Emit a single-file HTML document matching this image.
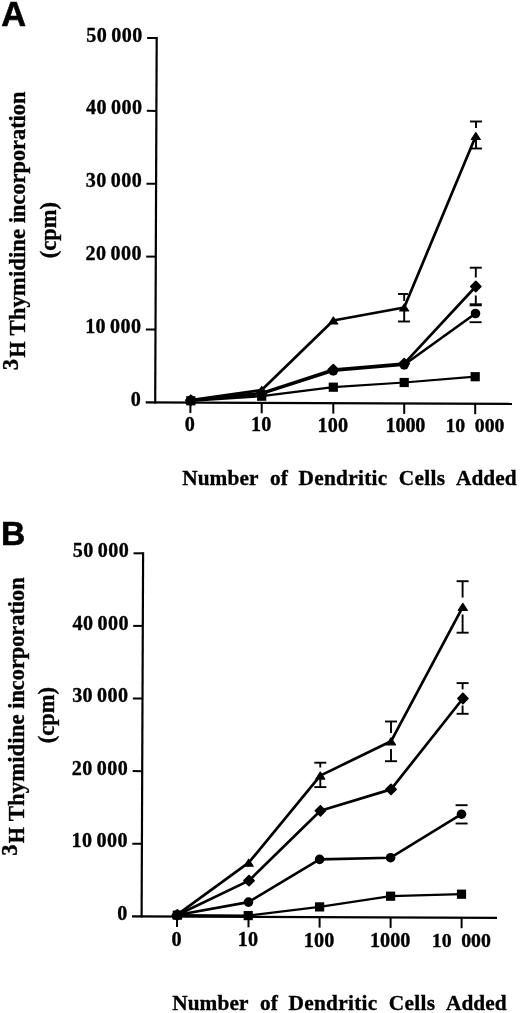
<!DOCTYPE html>
<html lang="en"><head><meta charset="utf-8"><title>Figure</title>
<style>
html,body{margin:0;padding:0;background:#fff}
svg{display:block}
text{font-family:'Liberation Serif', 'DejaVu Serif', serif;font-weight:bold;fill:#000;stroke:#000;stroke-width:0.35px}
.pl{font-family:'Liberation Sans', 'DejaVu Sans', sans-serif;font-weight:bold;stroke-width:0.6px}
</style></head><body>
<svg width="520" height="1013" viewBox="0 0 520 1013">
<rect width="520" height="1013" fill="#fff"/>
<text class="pl" x="1.2" y="25.5" font-size="34.4">A</text>
<text class="pl" x="0.9" y="545.3" font-size="33.6">B</text>
<g id="panelA">
<line x1="156.7" y1="37.0" x2="155.2" y2="403.4" stroke="#000" stroke-width="2.2" stroke-linecap="butt"/>
<line x1="145.7" y1="402.4" x2="512.0" y2="403.9" stroke="#000" stroke-width="2.2" stroke-linecap="butt"/>
<line x1="147.1" y1="38.0" x2="156.7" y2="38.0" stroke="#000" stroke-width="2.0" stroke-linecap="butt"/>
<line x1="146.8" y1="110.8" x2="156.4" y2="110.9" stroke="#000" stroke-width="2.0" stroke-linecap="butt"/>
<line x1="146.5" y1="183.7" x2="156.1" y2="183.8" stroke="#000" stroke-width="2.0" stroke-linecap="butt"/>
<line x1="146.2" y1="256.6" x2="155.8" y2="256.6" stroke="#000" stroke-width="2.0" stroke-linecap="butt"/>
<line x1="145.9" y1="329.5" x2="155.5" y2="329.5" stroke="#000" stroke-width="2.0" stroke-linecap="butt"/>
<line x1="190.4" y1="402.5" x2="190.4" y2="413.0" stroke="#000" stroke-width="2.0" stroke-linecap="butt"/>
<line x1="261.7" y1="402.8" x2="261.7" y2="413.3" stroke="#000" stroke-width="2.0" stroke-linecap="butt"/>
<line x1="333.3" y1="403.1" x2="333.3" y2="413.6" stroke="#000" stroke-width="2.0" stroke-linecap="butt"/>
<line x1="404.2" y1="403.4" x2="404.2" y2="413.9" stroke="#000" stroke-width="2.0" stroke-linecap="butt"/>
<line x1="475.2" y1="403.7" x2="475.2" y2="414.2" stroke="#000" stroke-width="2.0" stroke-linecap="butt"/>
<text x="142.8" y="41.5" font-size="20.1" text-anchor="end" letter-spacing="0.45" word-spacing="-1.5">50 000</text>
<text x="142.5" y="114.4" font-size="20.1" text-anchor="end" letter-spacing="0.45" word-spacing="-1.5">40 000</text>
<text x="142.2" y="187.3" font-size="20.1" text-anchor="end" letter-spacing="0.45" word-spacing="-1.5">30 000</text>
<text x="141.9" y="260.2" font-size="20.1" text-anchor="end" letter-spacing="0.45" word-spacing="-1.5">20 000</text>
<text x="141.6" y="333.1" font-size="20.1" text-anchor="end" letter-spacing="0.45" word-spacing="-1.5">10 000</text>
<text x="141.3" y="405.9" font-size="20.1" text-anchor="end" letter-spacing="0.45" word-spacing="-1.5">0</text>
<text x="190.0" y="431.1" font-size="20.2" text-anchor="middle" letter-spacing="0.25">0</text>
<text x="261.3" y="431.4" font-size="20.2" text-anchor="middle" letter-spacing="0.25">10</text>
<text x="332.9" y="431.7" font-size="20.2" text-anchor="middle" letter-spacing="0.25">100</text>
<text x="405.4" y="432.0" font-size="20.2" text-anchor="middle" letter-spacing="-0.2">1000</text>
<text x="465.2" y="432.3" font-size="19.8" text-anchor="end" >10</text>
<text x="474.8" y="432.3" font-size="19.8" text-anchor="start" >000</text>
<polyline points="190.8,400.8 261.7,396.2 333.3,387.2 404.2,382.5 475.2,376.7" fill="none" stroke="#000" stroke-width="2.2" stroke-linejoin="round"/>
<polyline points="190.8,400.3 261.7,393.8 333.3,370.8 404.2,364.8 475.5,313.5" fill="none" stroke="#000" stroke-width="2.6" stroke-linejoin="round"/>
<polyline points="190.8,400.3 261.7,393.0 333.3,369.6 404.2,363.6 475.8,286.5" fill="none" stroke="#000" stroke-width="2.7" stroke-linejoin="round"/>
<polyline points="190.8,400.0 261.7,390.0 333.3,320.5 404.2,307.5 475.8,136.0" fill="none" stroke="#000" stroke-width="2.7" stroke-linejoin="round"/>
<line x1="476.0" y1="121.5" x2="476.0" y2="128.0" stroke="#000" stroke-width="1.9" stroke-linecap="butt"/><line x1="476.0" y1="140.0" x2="476.0" y2="148.5" stroke="#000" stroke-width="1.9" stroke-linecap="butt"/><line x1="470.0" y1="121.5" x2="482.0" y2="121.5" stroke="#000" stroke-width="1.9" stroke-linecap="butt"/><line x1="470.0" y1="148.5" x2="482.0" y2="148.5" stroke="#000" stroke-width="1.9" stroke-linecap="butt"/>
<line x1="404.2" y1="294.0" x2="404.2" y2="301.0" stroke="#000" stroke-width="1.9" stroke-linecap="butt"/><line x1="404.2" y1="311.0" x2="404.2" y2="321.5" stroke="#000" stroke-width="1.9" stroke-linecap="butt"/><line x1="398.0" y1="294.0" x2="408.0" y2="294.0" stroke="#000" stroke-width="1.9" stroke-linecap="butt"/><line x1="398.0" y1="321.5" x2="410.0" y2="321.5" stroke="#000" stroke-width="1.9" stroke-linecap="butt"/>
<line x1="475.8" y1="267.7" x2="475.8" y2="277.5" stroke="#000" stroke-width="1.9" stroke-linecap="butt"/><line x1="475.8" y1="295.5" x2="475.8" y2="304.8" stroke="#000" stroke-width="1.9" stroke-linecap="butt"/><line x1="469.8" y1="267.7" x2="481.8" y2="267.7" stroke="#000" stroke-width="1.9" stroke-linecap="butt"/><line x1="469.6" y1="304.8" x2="481.8" y2="304.8" stroke="#000" stroke-width="3.0" stroke-linecap="butt"/>
<line x1="469.6" y1="322.2" x2="481.6" y2="322.2" stroke="#000" stroke-width="1.9" stroke-linecap="butt"/>
<rect x="186.2" y="396.2" width="9.2" height="9.2" fill="#000"/>
<rect x="257.1" y="391.6" width="9.2" height="9.2" fill="#000"/>
<rect x="328.7" y="382.6" width="9.2" height="9.2" fill="#000"/>
<rect x="399.6" y="377.9" width="9.2" height="9.2" fill="#000"/>
<rect x="470.6" y="372.1" width="9.2" height="9.2" fill="#000"/>
<circle cx="190.8" cy="400.3" r="4.8" fill="#000"/>
<circle cx="261.7" cy="393.8" r="4.8" fill="#000"/>
<circle cx="333.3" cy="370.8" r="4.8" fill="#000"/>
<circle cx="404.2" cy="364.8" r="4.8" fill="#000"/>
<circle cx="475.5" cy="313.5" r="4.8" fill="#000"/>
<polygon points="185.7,400.3 190.8,395.2 195.9,400.3 190.8,405.4" fill="#000" stroke="#000" stroke-width="1.6" stroke-linejoin="round"/>
<polygon points="256.6,393.0 261.7,387.9 266.8,393.0 261.7,398.1" fill="#000" stroke="#000" stroke-width="1.6" stroke-linejoin="round"/>
<polygon points="328.2,369.6 333.3,364.5 338.4,369.6 333.3,374.7" fill="#000" stroke="#000" stroke-width="1.6" stroke-linejoin="round"/>
<polygon points="399.1,363.6 404.2,358.5 409.3,363.6 404.2,368.7" fill="#000" stroke="#000" stroke-width="1.6" stroke-linejoin="round"/>
<polygon points="470.7,286.5 475.8,281.4 480.9,286.5 475.8,291.6" fill="#000" stroke="#000" stroke-width="1.6" stroke-linejoin="round"/>
<polygon points="186.3,403.5 190.8,396.5 195.3,403.5" fill="#000" stroke="#000" stroke-width="1.2" stroke-linejoin="round"/>
<polygon points="257.2,393.5 261.7,386.5 266.2,393.5" fill="#000" stroke="#000" stroke-width="1.2" stroke-linejoin="round"/>
<polygon points="328.8,324.0 333.3,317.0 337.8,324.0" fill="#000" stroke="#000" stroke-width="1.2" stroke-linejoin="round"/>
<polygon points="399.7,311.0 404.2,304.0 408.7,311.0" fill="#000" stroke="#000" stroke-width="1.2" stroke-linejoin="round"/>
<polygon points="471.3,139.5 475.8,132.5 480.3,139.5" fill="#000" stroke="#000" stroke-width="1.2" stroke-linejoin="round"/>
<text x="182.2" y="485.0" font-size="21.3" text-anchor="start" letter-spacing="0.1">Number</text>
<text x="269.9" y="485.0" font-size="21.3" text-anchor="start" letter-spacing="0.2">of</text>
<text x="298.5" y="485.0" font-size="21.3" text-anchor="start" letter-spacing="0.3">Dendritic</text>
<text x="398.8" y="485.0" font-size="21.3" text-anchor="start" letter-spacing="0.35">Cells</text>
<text x="456.0" y="485.0" font-size="21.3" text-anchor="start" letter-spacing="0.05">Added</text>
<g transform="translate(25.2,335.6) rotate(-90)"><text x="0" y="0" font-size="22.9">Thymidine</text><text transform="translate(112.5,0) scale(0.975,1)" x="0" y="0" font-size="22.9">incorporation</text><text transform="translate(-5.9,0) scale(0.9,1)" x="0" y="0" font-size="22.9" text-anchor="end">H</text><text x="-23.3" y="-6.8" font-size="22.5" text-anchor="end">3</text><text x="105.5" y="30.5" font-size="22.5" text-anchor="middle">(cpm)</text></g>
</g>
<g id="panelB">
<line x1="143.1" y1="552.3" x2="141.6" y2="917.4" stroke="#000" stroke-width="2.2" stroke-linecap="butt"/>
<line x1="132.1" y1="916.4" x2="497.0" y2="917.9" stroke="#000" stroke-width="2.2" stroke-linecap="butt"/>
<line x1="133.5" y1="553.3" x2="143.1" y2="553.3" stroke="#000" stroke-width="2.0" stroke-linecap="butt"/>
<line x1="133.2" y1="625.9" x2="142.8" y2="625.9" stroke="#000" stroke-width="2.0" stroke-linecap="butt"/>
<line x1="132.9" y1="698.5" x2="142.5" y2="698.5" stroke="#000" stroke-width="2.0" stroke-linecap="butt"/>
<line x1="132.6" y1="771.1" x2="142.2" y2="771.2" stroke="#000" stroke-width="2.0" stroke-linecap="butt"/>
<line x1="132.3" y1="843.7" x2="141.9" y2="843.8" stroke="#000" stroke-width="2.0" stroke-linecap="butt"/>
<line x1="177.0" y1="916.5" x2="177.0" y2="927.0" stroke="#000" stroke-width="2.0" stroke-linecap="butt"/>
<line x1="248.5" y1="916.8" x2="248.5" y2="927.3" stroke="#000" stroke-width="2.0" stroke-linecap="butt"/>
<line x1="319.6" y1="917.1" x2="319.6" y2="927.6" stroke="#000" stroke-width="2.0" stroke-linecap="butt"/>
<line x1="390.6" y1="917.4" x2="390.6" y2="927.9" stroke="#000" stroke-width="2.0" stroke-linecap="butt"/>
<line x1="461.6" y1="917.7" x2="461.6" y2="928.2" stroke="#000" stroke-width="2.0" stroke-linecap="butt"/>
<text x="129.2" y="556.8" font-size="20.1" text-anchor="end" letter-spacing="0.45" word-spacing="-1.5">50 000</text>
<text x="128.9" y="629.5" font-size="20.1" text-anchor="end" letter-spacing="0.45" word-spacing="-1.5">40 000</text>
<text x="128.6" y="702.1" font-size="20.1" text-anchor="end" letter-spacing="0.45" word-spacing="-1.5">30 000</text>
<text x="128.3" y="774.7" font-size="20.1" text-anchor="end" letter-spacing="0.45" word-spacing="-1.5">20 000</text>
<text x="128.0" y="847.3" font-size="20.1" text-anchor="end" letter-spacing="0.45" word-spacing="-1.5">10 000</text>
<text x="127.7" y="919.9" font-size="20.1" text-anchor="end" letter-spacing="0.45" word-spacing="-1.5">0</text>
<text x="176.6" y="945.9" font-size="20.2" text-anchor="middle" letter-spacing="0.25">0</text>
<text x="248.1" y="946.2" font-size="20.2" text-anchor="middle" letter-spacing="0.25">10</text>
<text x="319.2" y="946.5" font-size="20.2" text-anchor="middle" letter-spacing="0.25">100</text>
<text x="390.2" y="946.8" font-size="20.2" text-anchor="middle" letter-spacing="0.04999999999999999">1000</text>
<text x="451.6" y="947.1" font-size="19.8" text-anchor="end" >10</text>
<text x="461.2" y="947.1" font-size="19.8" text-anchor="start" >000</text>
<polyline points="177.3,915.2 248.2,915.6 319.6,906.9 390.6,896.2 461.5,894.2" fill="none" stroke="#000" stroke-width="2.2" stroke-linejoin="round"/>
<polyline points="177.3,915.0 248.5,902.1 319.6,859.4 390.6,857.7 461.5,814.2" fill="none" stroke="#000" stroke-width="2.6" stroke-linejoin="round"/>
<polyline points="177.3,915.0 249.0,880.6 320.4,810.8 391.0,789.4 462.9,698.5" fill="none" stroke="#000" stroke-width="2.7" stroke-linejoin="round"/>
<polyline points="177.3,914.6 248.7,862.7 320.3,775.6 391.0,741.3 462.8,606.8" fill="none" stroke="#000" stroke-width="2.7" stroke-linejoin="round"/>
<line x1="462.6" y1="581.2" x2="462.6" y2="597.5" stroke="#000" stroke-width="1.9" stroke-linecap="butt"/><line x1="462.6" y1="614.5" x2="462.6" y2="632.7" stroke="#000" stroke-width="1.9" stroke-linecap="butt"/><line x1="456.6" y1="581.2" x2="468.6" y2="581.2" stroke="#000" stroke-width="1.9" stroke-linecap="butt"/><line x1="456.6" y1="632.7" x2="468.6" y2="632.7" stroke="#000" stroke-width="1.9" stroke-linecap="butt"/>
<line x1="462.6" y1="683.1" x2="462.6" y2="689.4" stroke="#000" stroke-width="1.9" stroke-linecap="butt"/><line x1="462.6" y1="705.5" x2="462.6" y2="713.8" stroke="#000" stroke-width="1.9" stroke-linecap="butt"/><line x1="456.6" y1="683.1" x2="468.6" y2="683.1" stroke="#000" stroke-width="1.9" stroke-linecap="butt"/><line x1="456.6" y1="713.8" x2="468.6" y2="713.8" stroke="#000" stroke-width="1.9" stroke-linecap="butt"/>
<line x1="391.0" y1="721.5" x2="391.0" y2="733.0" stroke="#000" stroke-width="1.9" stroke-linecap="butt"/><line x1="391.0" y1="749.0" x2="391.0" y2="761.2" stroke="#000" stroke-width="1.9" stroke-linecap="butt"/><line x1="385.0" y1="721.5" x2="397.0" y2="721.5" stroke="#000" stroke-width="1.9" stroke-linecap="butt"/><line x1="385.0" y1="761.2" x2="397.0" y2="761.2" stroke="#000" stroke-width="1.9" stroke-linecap="butt"/>
<line x1="320.3" y1="762.7" x2="320.3" y2="767.5" stroke="#000" stroke-width="1.9" stroke-linecap="butt"/><line x1="320.3" y1="779.0" x2="320.3" y2="787.1" stroke="#000" stroke-width="1.9" stroke-linecap="butt"/><line x1="314.3" y1="762.7" x2="326.3" y2="762.7" stroke="#000" stroke-width="1.9" stroke-linecap="butt"/><line x1="314.3" y1="787.1" x2="326.3" y2="787.1" stroke="#000" stroke-width="1.9" stroke-linecap="butt"/>
<line x1="455.6" y1="805.2" x2="467.6" y2="805.2" stroke="#000" stroke-width="1.9" stroke-linecap="butt"/><line x1="455.6" y1="823.5" x2="467.6" y2="823.5" stroke="#000" stroke-width="1.9" stroke-linecap="butt"/>
<rect x="172.7" y="910.6" width="9.2" height="9.2" fill="#000"/>
<rect x="243.6" y="911.0" width="9.2" height="9.2" fill="#000"/>
<rect x="315.0" y="902.3" width="9.2" height="9.2" fill="#000"/>
<rect x="386.0" y="891.6" width="9.2" height="9.2" fill="#000"/>
<rect x="456.9" y="889.6" width="9.2" height="9.2" fill="#000"/>
<circle cx="177.3" cy="915.0" r="4.8" fill="#000"/>
<circle cx="248.5" cy="902.1" r="4.8" fill="#000"/>
<circle cx="319.6" cy="859.4" r="4.8" fill="#000"/>
<circle cx="390.6" cy="857.7" r="4.8" fill="#000"/>
<circle cx="461.5" cy="814.2" r="4.8" fill="#000"/>
<polygon points="172.2,915.0 177.3,909.9 182.4,915.0 177.3,920.1" fill="#000" stroke="#000" stroke-width="1.6" stroke-linejoin="round"/>
<polygon points="243.9,880.6 249.0,875.5 254.1,880.6 249.0,885.7" fill="#000" stroke="#000" stroke-width="1.6" stroke-linejoin="round"/>
<polygon points="315.3,810.8 320.4,805.7 325.5,810.8 320.4,815.9" fill="#000" stroke="#000" stroke-width="1.6" stroke-linejoin="round"/>
<polygon points="385.9,789.4 391.0,784.3 396.1,789.4 391.0,794.5" fill="#000" stroke="#000" stroke-width="1.6" stroke-linejoin="round"/>
<polygon points="457.8,698.5 462.9,693.4 468.0,698.5 462.9,703.6" fill="#000" stroke="#000" stroke-width="1.6" stroke-linejoin="round"/>
<polygon points="172.8,918.1 177.3,911.1 181.8,918.1" fill="#000" stroke="#000" stroke-width="1.2" stroke-linejoin="round"/>
<polygon points="244.2,866.2 248.7,859.2 253.2,866.2" fill="#000" stroke="#000" stroke-width="1.2" stroke-linejoin="round"/>
<polygon points="315.8,779.1 320.3,772.1 324.8,779.1" fill="#000" stroke="#000" stroke-width="1.2" stroke-linejoin="round"/>
<polygon points="386.5,744.8 391.0,737.8 395.5,744.8" fill="#000" stroke="#000" stroke-width="1.2" stroke-linejoin="round"/>
<polygon points="458.3,610.3 462.8,603.3 467.3,610.3" fill="#000" stroke="#000" stroke-width="1.2" stroke-linejoin="round"/>
<text x="172.2" y="1009.8" font-size="21.3" text-anchor="start" letter-spacing="0.1">Number</text>
<text x="259.9" y="1009.8" font-size="21.3" text-anchor="start" letter-spacing="0.2">of</text>
<text x="288.5" y="1009.8" font-size="21.3" text-anchor="start" letter-spacing="0.3">Dendritic</text>
<text x="388.8" y="1009.8" font-size="21.3" text-anchor="start" letter-spacing="0.35">Cells</text>
<text x="446.0" y="1009.8" font-size="21.3" text-anchor="start" letter-spacing="0.05">Added</text>
<g transform="translate(24.0,821.3) rotate(-90)"><text x="0" y="0" font-size="22.9">Thymidine</text><text transform="translate(112.5,0) scale(0.975,1)" x="0" y="0" font-size="22.9">incorporation</text><text transform="translate(-5.9,0) scale(0.9,1)" x="0" y="0" font-size="22.9" text-anchor="end">H</text><text x="-23.3" y="-6.8" font-size="22.5" text-anchor="end">3</text><text x="106.2" y="30.2" font-size="22.5" text-anchor="middle">(cpm)</text></g>
</g>
</svg>
</body></html>
